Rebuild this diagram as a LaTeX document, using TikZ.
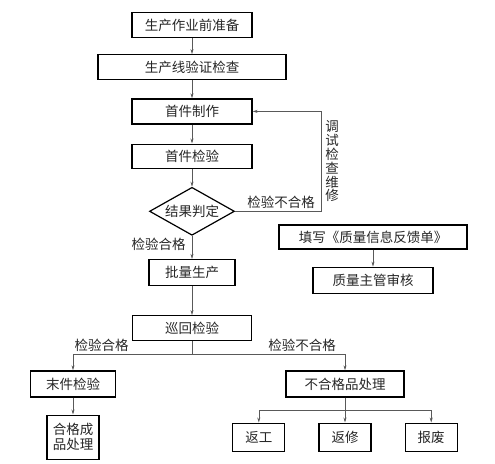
\documentclass[tikz,border=0pt]{standalone}
\usepackage{fontspec}
\newfontfamily\cjk{Noto Sans CJK SC}
\usetikzlibrary{arrows.meta, positioning, shapes.geometric}

\begin{document}
\begin{tikzpicture}[
  x=1pt, y=1pt,
  font=\cjk\fontsize{13.5}{15}\selectfont,
  >={Stealth[length=5pt, width=3pt]},
  box/.style   ={rectangle, draw=black, line width=1.2pt, inner sep=0pt, align=center, minimum height=25pt, text=black!85},
  judge/.style ={diamond, draw=black, line width=1.2pt, inner sep=0pt, aspect=1.8, minimum width=85pt, minimum height=48pt, text=black!85},
  lbl/.style   ={inner sep=2pt, text=black!85},
  vlbl/.style  ={inner sep=0pt, align=center, text=black!85, font=\cjk\fontsize{13.5}{13.8}\selectfont},
  arr/.style   ={->, line width=0.6pt, draw=black!65}
]
\useasboundingbox (0,0) rectangle (495,-463);

% ---- main column (top-to-bottom) ----
\node[box, minimum width=120pt] (prep)  at (192,-25) {生产作业前准备};
\node[box, minimum width=188pt] (line)  [below=16pt of prep] {生产线验证检查};
\node[box, minimum width=120pt] (make)  [below=18pt of line] {首件制作};
\node[box, minimum width=120pt, minimum height=24pt] (first) [below=19pt of make] {首件检验};
\node[judge] (dec)   [below=18pt of first] {结果判定};
\node[box, minimum width=86pt, minimum height=26pt]  (batch) [below=23pt of dec] {批量生产};
\node[box, minimum width=119pt] (patrol) [below=29pt of batch] {巡回检验};

% ---- branches ----
\node[box, minimum width=85pt, minimum height=26pt]  (last)   [below=29pt of patrol, xshift=-119pt] {末件检验};
\node[box, minimum width=52pt, minimum height=44pt]  (okprod) [below=17pt of last] {合格成\\品处理};
\node[box, minimum width=118pt, minimum height=26pt] (reject) [below=29pt of patrol, xshift=153pt] {不合格品处理};
\node[box, minimum width=52pt, minimum height=28pt]  (fix)    [below=25pt of reject] {返修};
\node[box, minimum width=52pt, minimum height=28pt]  (redo)   [left=33pt of fix] {返工};
\node[box, minimum width=52pt, minimum height=28pt]  (scrap)  [right=33pt of fix] {报废};

% ---- feedback (right) ----
\node[box, minimum width=188pt, minimum height=24pt] (sheet) at (373,-237) {填写《质量信息反馈单》};
\node[box, minimum width=120pt, minimum height=26pt] (audit) [below=17pt of sheet] {质量主管审核};

% ---- edges ----
\draw[arr] (prep)  -- (line);
\draw[arr] (line)  -- (make);
\draw[arr] (make)  -- (first);
\draw[arr] (first) -- (dec);
\draw[arr] (dec.south) -- node[lbl, pos=0.35, left=4pt] {检验合格} (batch);
\draw[arr] (batch) -- (patrol);
\draw[arr] (dec.east) -- ++(86pt,0) node[lbl, above left=0pt and 4pt] {检验不合格}
  |- node[vlbl, pos=0.25, right=4pt] {调\\试\\检\\查\\维\\修} (make.east);
% patrol splits
\draw[arr] (patrol.south) -- ++(0,-13pt) -| node[lbl, pos=0.38, above] {检验合格} (last.north);
\draw[arr] (patrol.south) -- ++(0,-13pt) -| node[lbl, pos=0.36, above] {检验不合格} (reject.north);
\draw[arr] (last)  -- (okprod);
\draw[arr] (reject.south) -- ++(0,-13pt) -| (redo.north);
\draw[arr] (reject.south) -- (fix.north);
\draw[arr] (reject.south) -- ++(0,-13pt) -| (scrap.north);
\draw[arr] (sheet) -- (audit);

\end{tikzpicture}
\end{document}
